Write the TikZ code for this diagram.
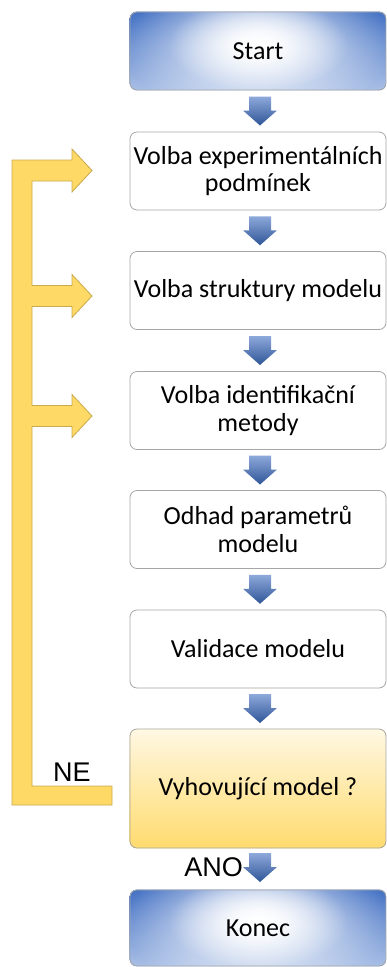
\documentclass[tikz,border=0pt]{standalone}
\usepackage{fontspec}
\setmainfont{Carlito}
\newfontfamily\arialf{Liberation Sans}
\usetikzlibrary{calc,backgrounds,fadings}

\definecolor{bdark}{HTML}{4472C4}
\definecolor{bmid}{HTML}{7294D3}
\definecolor{blight}{HTML}{A9BFE6}
\definecolor{arrtop}{HTML}{8EA9DB}
\definecolor{arrbot}{HTML}{2F5597}
\definecolor{ylw}{HTML}{FFD966}
\definecolor{ylwline}{HTML}{C9A94E}
\definecolor{ytop}{HTML}{FFF8E3}
\definecolor{ybot}{HTML}{FFDB6E}
\definecolor{boxline}{HTML}{A6A6A6}

\tikzfading[name=glowfade, inner color=transparent!0, outer color=transparent!100]

\newcommand\blockdown[1]{%
  \shade[top color=arrtop, bottom color=arrbot]
    ($(#1)+(-11,-14.5)$) -- ($(#1)+(11,-14.5)$) -- ($(#1)+(11,-0.5)$)
    -- ($(#1)+(17,-0.5)$) -- ($(#1)+(0,14.5)$) -- ($(#1)+(-17,-0.5)$)
    -- ($(#1)+(-11,-0.5)$) -- cycle;}

\begin{document}
\begin{tikzpicture}[x=1pt,y=-1pt,
  stepbox/.style={draw=boxline, line width=0.8pt, rounded corners=7pt,
    minimum width=256pt, minimum height=78pt, align=center, inner sep=0pt,
    font=\fontsize{26}{27.5}\selectfont, text=black},
  lbl/.style={font=\arialf\fontsize{27}{27}\selectfont, inner sep=0pt, text=black}]

\useasboundingbox (0,0) rectangle (387,967);

% boxes
\node[stepbox] (start) at (258,51) {Start};
\node[stepbox, fill=white] (b1) at (258,171) {Volba experimentálních\\podmínek};
\node[stepbox, fill=white] (b2) at (258,290.5) {Volba struktury modelu};
\node[stepbox, fill=white] (b3) at (258,410.5) {Volba identifikační\\metody};
\node[stepbox, fill=white] (b4) at (258,529.5) {Odhad parametrů\\modelu};
\node[stepbox, fill=white] (b5) at (258,649) {Validace modelu};
\node[stepbox, minimum height=119pt] (b6) at (258,788.5) {Vyhovující model ?};
\node[stepbox, minimum height=76pt] (konec) at (258,928) {Konec};

% shaded backgrounds
\begin{scope}[on background layer]
  \foreach \n in {start,konec}{
    \shade[top color=bdark, middle color=bmid, bottom color=blight, rounded corners=7pt]
      (\n.north west) rectangle (\n.south east);
    \begin{scope}
      \clip[rounded corners=7pt] (\n.north west) rectangle (\n.south east);
      \fill[white, path fading=glowfade]
        ($(\n.center)+(-132,-86)$) rectangle ($(\n.center)+(132,74)$);
      \fill[white, path fading=glowfade]
        ($(\n.center)+(-90,-52)$) rectangle ($(\n.center)+(90,40)$);
    \end{scope}
  }
  \shade[top color=ytop, bottom color=ybot, rounded corners=7pt]
    (b6.north west) rectangle (b6.south east);
\end{scope}

% blue down arrows
\coordinate (a1) at ($(start.south)!0.5!(b1.north)+(2,0)$);
\coordinate (a2) at ($(b1.south)!0.5!(b2.north)+(2,0)$);
\coordinate (a3) at ($(b2.south)!0.5!(b3.north)+(2,0)$);
\coordinate (a4) at ($(b3.south)!0.5!(b4.north)+(2,0)$);
\coordinate (a5) at ($(b4.south)!0.5!(b5.north)+(2,0)$);
\coordinate (a6) at ($(b5.south)!0.5!(b6.north)+(2,0)$);
\coordinate (a7) at ($(b6.south)!0.5!(konec.north)+(2,-1.5)$);
\foreach \a in {a1,a2,a3,a4,a5,a6,a7}{\blockdown{\a}}

% feedback block arrow
\filldraw[fill=ylw, draw=ylwline, line width=0.8pt, line join=miter]
  (12,160) -- (72,160) -- (72,149) -- (92,170.5) -- (72,192) -- (72,181)
  -- (32,181) -- (32,285.5) -- (72,285.5) -- (72,274.5) -- (92,296) -- (72,317.5) -- (72,306.5)
  -- (32,306.5) -- (32,405.5) -- (72,405.5) -- (72,394.5) -- (92,416) -- (72,437.5) -- (72,426.5)
  -- (32,426.5) -- (32,786) -- (112,786) -- (112,805) -- (12,805) -- cycle;

% labels
\node[lbl] (ne) at (72,772) {NE};
\node[lbl, anchor=east] (ano) at ($(a7)+(-17,0)$) {ANO};
\end{tikzpicture}
\end{document}
